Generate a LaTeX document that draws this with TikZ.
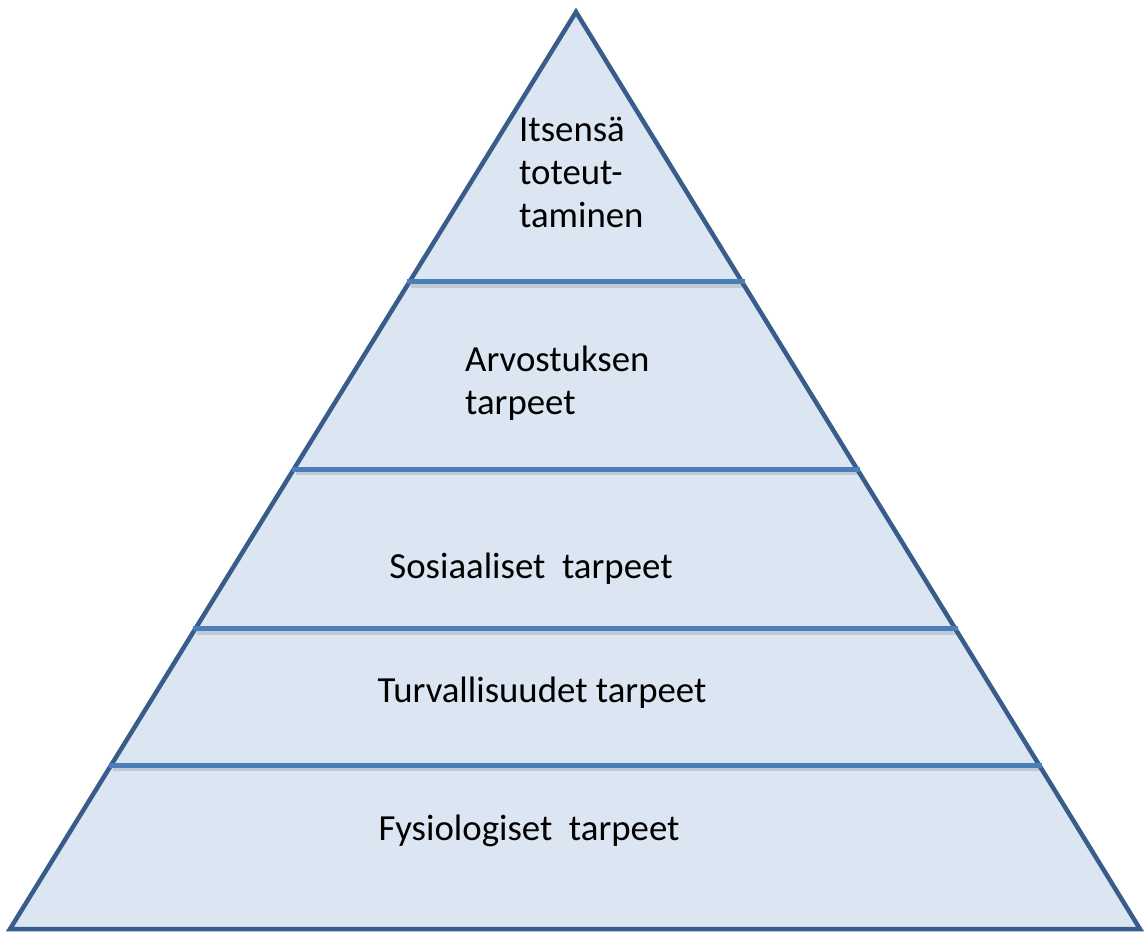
\documentclass[tikz,border=0pt]{standalone}
\usepackage{fontspec}
\setmainfont{Carlito}
\usepackage{tikz}
\usetikzlibrary{calc}
\definecolor{pyrfill}{RGB}{220,230,242}
\definecolor{pyredge}{RGB}{56,93,138}
\definecolor{pyrbar}{RGB}{74,126,187}

\begin{document}
\begin{tikzpicture}[
        x=1pt, y=-1pt,
        font=\fontsize{36.8}{43}\selectfont,
        outline/.style={draw=pyredge, line width=4.5pt, fill=pyrfill, line join=miter},
        bar/.style={draw=pyrbar, line width=5pt},
        barshadow/.style={draw=black, opacity=0.12, line width=6pt},
        label/.style={inner sep=0pt, align=left}
    ]
        \useasboundingbox (0,0) rectangle (1144,932);
        \coordinate (apex) at (576,12);
        \coordinate (bl) at (10,929);
        \coordinate (br) at (1140,929);

        \draw[outline] (apex) -- (bl) -- (br) -- cycle;

        % levels of the pyramid
        \foreach \t/\n in {0.2944/a,0.4984/b,0.6728/c,0.8212/d} {
            \coordinate (l\n) at ($(apex)!\t!(bl)$);
            \coordinate (r\n) at ($(apex)!\t!(br)$);
            \draw[barshadow] ($(l\n)+(2,3)$) -- ($(r\n)+(1,3)$);
            \draw[bar] ($(l\n)+(-2,0)$) -- ($(r\n)+(3,0)$);
        }

        \node[label, anchor=west] (self) at (519,172) {Itsensä\\toteut-\\taminen};
        \node[label, anchor=west] (esteem) at (465,383) {Arvostuksen\\tarpeet};
        \node[label] (social) at (531,569) {Sosiaaliset\ \ tarpeet};
        \node[label] (safety) at (542,693) {Turvallisuudet tarpeet};
        \node[label] (physio) at (529,831) {Fysiologiset\ \ tarpeet};
    \end{tikzpicture}
\end{document}
